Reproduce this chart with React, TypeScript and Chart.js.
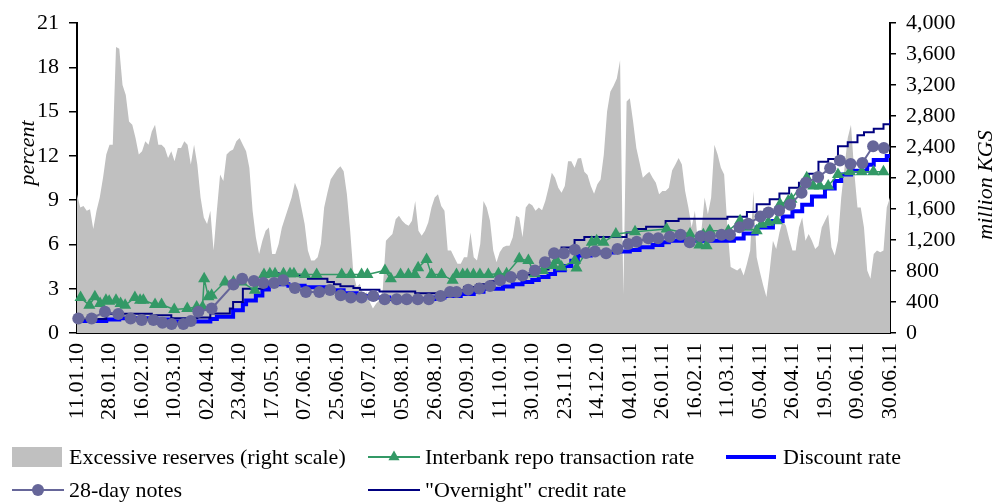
import React, { useEffect, useRef } from 'react';
import { Chart, registerables } from 'chart.js';

Chart.register(...registerables);

// ---- data ----
// x unit: period index; one tick label every 10 periods
const tickLabels = ['11.01.10', '28.01.10', '16.02.10', '10.03.10', '02.04.10', '23.04.10', '17.05.10', '07.06.10', '25.06.10', '16.07.10', '05.08.10', '26.08.10', '20.09.10', '11.10.10', '30.10.10', '23.11.10', '14.12.10', '04.01.11', '26.01.11', '16.02.11', '11.03.11', '05.04.11', '26.04.11', '19.05.11', '09.06.11', '30.06.11'];
const PERIODS_PER_LABEL = 10;

// Excessive reserves, million KGS (right scale), one value per period 0..250
const reserves = [
  1791, 1620, 1641, 1577, 1598, 1342, 1577, 1748, 2004, 2304,
  2432, 2432, 3693, 3671, 3201, 3073, 2731, 2688, 2517, 2304,
  2346, 2475, 2432, 2603, 2688, 2432, 2432, 2389, 2261, 2346,
  2218, 2389, 2389, 2475, 2432, 2175, 2432, 2175, 1748, 1492,
  1406, 1577, 1064, 1577, 2047, 1962, 2304, 2346, 2368, 2475,
  2517, 2432, 2346, 2133, 1577, 1235, 1021, 1192, 1321, 1363,
  1021, 1021, 1150, 1363, 1492, 1620, 1748, 1940, 1834, 1620,
  1406, 1064, 936, 936, 979, 1150, 1620, 1812, 1983, 2047,
  2111, 2154, 2090, 1791, 1321, 765, 594, 637, 466, 530,
  402, 316, 380, 423, 551, 1192, 1235, 1278, 1470, 1513,
  1449, 1406, 1385, 1449, 1705, 1321, 1257, 1321, 1428, 1620,
  1748, 1791, 1641, 1577, 1064, 1064, 979, 893, 893, 979,
  979,
  1299, 979, 936, 1150, 1705, 1620, 1449, 1064, 915, 1043,
  1107, 1128, 1128, 1235, 1513, 1492, 1235, 1620, 1675, 1650,
  1577, 1620, 1586, 1705, 1876, 2069, 2004, 1876, 1812, 1898,
  2218, 2218, 2133, 2252, 2261, 2081, 2039, 1898, 1799, 1919,
  1983, 2304, 2859, 3116, 3193, 3287, 3522, 500, 2988, 3030,
  2731, 2389, 2197, 2004, 2047, 2081, 2004, 1940, 1791, 1834,
  1834, 1876,
  2099, 2175, 2261, 2175, 1834, 1620, 1363, 1577, 1150, 1321,
  1748, 1534, 1748, 2432, 2304, 2133, 2047, 1363, 851, 829,
  808, 842, 744, 893, 1064, 1834, 979, 786, 615, 466,
  808, 1192, 1086, 1299, 1449, 1385, 1214, 1064, 1064, 1363,
  1492, 1192, 1278, 1192, 1086, 1128, 1363, 1449, 1534, 1107,
  1000, 1192, 1748, 2133, 2517, 2688, 2090, 1620, 1620, 1363,
  808, 701, 1021, 1064, 1043, 1064, 1620, 1748,
];

// Discount rate, %: period where each level starts, and the level
const discountFrom = [0, 9, 13, 23, 29, 41, 43, 48, 51, 52, 55, 57, 59, 65, 70, 77, 82, 86, 90, 96, 110, 113, 118, 122, 125, 131, 134, 137, 140, 142, 145, 147, 150, 152, 154, 158, 165, 170, 173, 177, 180, 182, 202, 205, 209, 214, 217, 220, 223, 226, 230, 233, 235, 238, 243, 245, 249];
const discountRate = [0.82, 0.92, 1.0, 0.92, 0.78, 0.95, 1.1, 1.55, 1.95, 2.2, 2.55, 2.95, 3.3, 3.2, 3.1, 2.9, 2.7, 2.5, 2.4, 2.3, 2.4, 2.5, 2.65, 2.8, 3.0, 3.15, 3.3, 3.45, 3.6, 3.8, 4.0, 4.25, 4.55, 4.9, 5.25, 5.45, 5.52, 5.63, 5.81, 5.97, 6.15, 6.25, 6.4, 6.75, 7.15, 7.6, 7.9, 8.25, 8.7, 9.25, 9.8, 10.3, 10.75, 11.0, 11.4, 11.72, 12.0];

// "Overnight" credit rate, %
const overnightFrom = [0, 9, 23, 29, 37, 41, 47, 48, 51, 57, 62, 69, 71, 77, 79, 81, 85, 87, 93, 104, 114, 119, 123, 127, 131, 134, 137, 140, 142, 145, 147, 149, 153, 156, 169, 172, 175, 181, 185, 200, 206, 209, 213, 216, 219, 222, 225, 228, 231, 234, 237, 240, 242, 245, 248];
const overnightRate = [0.95, 1.3, 1.2, 1.0, 1.05, 1.32, 1.66, 2.1, 3.0, 4.05, 3.9, 3.8, 3.68, 3.45, 3.3, 3.17, 3.05, 2.93, 2.82, 2.7, 2.9, 3.12, 3.3, 3.5, 3.65, 3.8, 3.95, 4.1, 4.3, 4.6, 5.2, 5.8, 6.3, 6.5, 6.82, 7.05, 7.2, 7.6, 7.74, 7.88, 8.21, 8.73, 9.07, 9.45, 9.85, 10.19, 10.79, 11.6, 11.8, 12.66, 12.93, 13.4, 13.6, 13.85, 14.15];
const LAST_PERIOD = 250;
const overnightEnd = 14.45;

// 28-day notes, %
const notesDay = [0.4, 4.5, 8.6, 12.7, 16.5, 19.9, 23.5, 26.3, 29.1, 32.7, 35.0, 37.3, 41.4, 48.1, 50.8, 54.4, 57.3, 60.6, 63.4, 67.0, 70.4, 74.5, 77.8, 81.1, 84.2, 87.5, 91.1, 94.6, 98.3, 101.4, 104.8, 108.2, 111.8, 114.7, 116.7, 120.3, 123.7, 127.0, 130.1, 133.4, 137.0, 140.8, 143.9, 146.7, 149.7, 153.1, 156.5, 159.3, 162.7, 166.2, 169.5, 172.1, 175.7, 178.7, 182.3, 185.6, 188.4, 191.8, 194.6, 198.2, 200.8, 203.7, 206.4, 210.2, 212.6, 215.9, 219.3, 222.8, 224.1, 227.9, 231.6, 234.6, 237.9, 241.5, 244.8, 248.1];
const notesRate = [0.99, 0.99, 1.44, 1.28, 0.99, 0.88, 0.88, 0.70, 0.61, 0.61, 0.81, 1.44, 1.66, 3.28, 3.68, 3.52, 3.39, 3.39, 3.57, 3.05, 2.78, 2.78, 2.92, 2.56, 2.40, 2.40, 2.51, 2.29, 2.29, 2.29, 2.29, 2.29, 2.51, 2.78, 2.78, 2.94, 3.01, 3.19, 3.57, 3.79, 3.90, 4.24, 4.80, 5.41, 5.41, 5.65, 5.43, 5.52, 5.41, 5.70, 6.04, 6.19, 6.42, 6.42, 6.53, 6.66, 6.15, 6.55, 6.53, 6.66, 6.66, 7.16, 7.40, 7.90, 8.17, 8.30, 8.70, 9.51, 10.19, 10.57, 11.17, 11.69, 11.45, 11.53, 12.66, 12.54];

// Interbank repo transaction rate, %
const repoDay = [1.1, 3.8, 5.5, 7.1, 8.9, 9.9, 12.0, 13.4, 14.8, 17.8, 19.4, 20.4, 24.0, 26.0, 29.9, 33.9, 36.8, 38.6, 39.1, 40.4, 41.4, 45.5, 48.1, 50.6, 54.7, 57.5, 59.3, 60.9, 63.5, 65.5, 66.7, 70.1, 73.7, 81.4, 84.2, 87.5, 89.3, 94.7, 96.5, 99.5, 101.9, 103.9, 104.9, 107.5, 109.0, 112.1, 115.5, 116.7, 118.6, 120.0, 121.9, 123.9, 126.5, 129.6, 132.1, 136.0, 138.8, 140.8, 143.3, 146.5, 147.5, 149.0, 153.1, 153.6, 158.3, 159.8, 161.9, 165.7, 171.6, 181.3, 188.5, 191.4, 192.6, 193.6, 194.6, 200.3, 203.9, 205.9, 209.0, 210.5, 212.6, 215.2, 216.2, 218.7, 219.7, 224.4, 226.4, 228.4, 231.0, 234.0, 237.7, 241.3, 244.9, 248.0];
const repoRate = [2.40, 1.88, 2.45, 2.00, 2.22, 2.15, 2.22, 2.00, 1.88, 2.40, 2.22, 2.22, 1.93, 1.93, 1.59, 1.66, 1.77, 1.77, 3.68, 2.45, 2.56, 3.46, 3.46, 3.46, 2.89, 3.97, 4.02, 4.02, 4.02, 4.02, 4.02, 3.97, 3.97, 3.97, 3.97, 3.97, 3.97, 4.24, 3.68, 3.97, 3.97, 3.97, 4.42, 4.98, 3.97, 3.97, 3.57, 3.97, 3.97, 3.97, 3.97, 3.97, 3.97, 4.02, 4.02, 5.03, 4.91, 4.02, 4.24, 4.58, 4.91, 4.47, 4.91, 4.40, 6.15, 6.26, 6.15, 6.71, 6.87, 7.05, 6.71, 5.97, 6.66, 5.92, 6.93, 6.93, 7.61, 7.16, 6.93, 7.38, 7.50, 7.61, 8.73, 8.95, 9.07, 10.52, 9.96, 9.96, 9.96, 10.75, 10.93, 10.93, 10.93, 10.93];

const legendRow1 = ['Excessive reserves (right scale)', 'Interbank repo transaction rate', 'Discount rate'];
const legendRow2 = ['28-day notes', '"Overnight" credit rate'];

// ---- styles ----
const FONT = '"Liberation Serif", "Times New Roman", serif';
const C_RES = '#C0C0C0';
const C_REPO = '#339966';
const C_DISC = '#0000FF';
const C_NOTES = '#666699';
const C_ON = '#000080';

function stepPoints(from: number[], rate: number[], endX: number, endY: number) {
  const pts = from.map((d, i) => ({ x: d, y: rate[i] }));
  pts.push({ x: endX, y: endY });
  return pts;
}

const axisTitlesPlugin = {
  id: 'axisTitles',
  afterDraw(chart: any) {
    const ctx = chart.ctx;
    ctx.save();
    ctx.font = 'italic 22px ' + FONT;
    ctx.fillStyle = '#000';
    ctx.textAlign = 'center';
    ctx.textBaseline = 'middle';
    ctx.save();
    ctx.translate(chart.scales.y.left + 28, 153);
    ctx.rotate(-Math.PI / 2);
    ctx.fillText('percent', 0, 0);
    ctx.restore();
    ctx.save();
    ctx.translate(chart.scales.y1.right - 12, 185);
    ctx.rotate(-Math.PI / 2);
    ctx.fillText('million KGS', 0, 0);
    ctx.restore();
    ctx.restore();
  },
};

function Swatch({ kind }: { kind: string }) {
  return (
    <svg width={52} height={24} style={{ display: 'block', flex: 'none' }}>
      {kind === 'area' && <rect x={0} y={2} width={50} height={20} fill={C_RES} />}
      {kind === 'repo' && (
        <g>
          <line x1={0} y1={12} x2={52} y2={12} stroke={C_REPO} strokeWidth={2} />
          <polygon points="26,5.5 31.6,15.2 20.4,15.2" fill={C_REPO} />
        </g>
      )}
      {kind === 'disc' && <line x1={0} y1={12} x2={50} y2={12} stroke={C_DISC} strokeWidth={4} />}
      {kind === 'notes' && (
        <g>
          <line x1={0} y1={12} x2={52} y2={12} stroke={C_NOTES} strokeWidth={2} />
          <circle cx={26} cy={12} r={6} fill={C_NOTES} />
        </g>
      )}
      {kind === 'on' && <line x1={0} y1={12} x2={52} y2={12} stroke={C_ON} strokeWidth={2} />}
    </svg>
  );
}

function LegendItem({ left, top, kind, text }: { left: number; top: number; kind: string; text: string }) {
  return (
    <div style={{ position: 'absolute', left, top, height: 24, display: 'flex', alignItems: 'center', whiteSpace: 'nowrap' }}>
      <Swatch kind={kind} />
      <span style={{ marginLeft: 5, fontFamily: FONT, fontSize: 22, lineHeight: '24px', color: '#000' }}>{text}</span>
    </div>
  );
}

export default function App() {
  const ref = useRef<HTMLCanvasElement | null>(null);

  useEffect(() => {
    if (!ref.current) return;
    Chart.defaults.font.family = FONT;
    Chart.defaults.font.size = 22;
    Chart.defaults.color = '#000';

    const chart = new Chart(ref.current, {
      type: 'line',
      data: {
        datasets: [
          {
            label: legendRow2[0],
            data: notesDay.map((d, i) => ({ x: d, y: notesRate[i] })),
            yAxisID: 'y',
            borderColor: C_NOTES,
            borderWidth: 2,
            pointStyle: 'circle',
            pointRadius: 6,
            pointBackgroundColor: C_NOTES,
            pointBorderWidth: 0,
            tension: 0,
            clip: false as any,
            order: 1,
          },
          {
            label: legendRow1[1],
            data: repoDay.map((d, i) => ({ x: d, y: repoRate[i] })),
            yAxisID: 'y',
            borderColor: C_REPO,
            borderWidth: 1.5,
            pointStyle: 'triangle',
            pointRadius: 7,
            pointBackgroundColor: C_REPO,
            pointBorderWidth: 0,
            tension: 0,
            clip: false as any,
            order: 2,
          },
          {
            label: legendRow2[1],
            data: stepPoints(overnightFrom, overnightRate, LAST_PERIOD, overnightEnd),
            yAxisID: 'y',
            borderColor: C_ON,
            borderWidth: 2,
            stepped: true,
            pointRadius: 0,
            order: 3,
          },
          {
            label: legendRow1[2],
            data: stepPoints(discountFrom, discountRate, LAST_PERIOD, discountRate[discountRate.length - 1]),
            yAxisID: 'y',
            borderColor: C_DISC,
            borderWidth: 4,
            stepped: true,
            pointRadius: 0,
            order: 4,
          },
          {
            label: legendRow1[0],
            data: reserves.map((v, i) => ({ x: i, y: v })),
            yAxisID: 'y1',
            backgroundColor: C_RES,
            borderWidth: 0,
            borderColor: C_RES,
            pointRadius: 0,
            fill: 'origin',
            tension: 0,
            order: 5,
          },
        ],
      },
      options: {
        animation: false,
        responsive: false,
        maintainAspectRatio: false,
        events: [],
        layout: { padding: { top: 21, left: 0, right: 0, bottom: 0 } },
        plugins: { legend: { display: false }, tooltip: { enabled: false } },
        scales: {
          x: {
            type: 'linear',
            min: 0,
            max: LAST_PERIOD,
            grid: { display: false, drawTicks: false },
            border: { display: true, color: '#000', width: 2 },
            ticks: {
              stepSize: PERIODS_PER_LABEL,
              maxTicksLimit: 40,
              autoSkip: false,
              minRotation: 90,
              maxRotation: 90,
              padding: 10,
              font: { size: 22, family: FONT },
              color: '#000',
              callback: (v: any) => tickLabels[Math.round(Number(v) / PERIODS_PER_LABEL)] ?? '',
            },
            afterFit: (s: any) => { s.height = 169; },
          },
          y: {
            type: 'linear',
            position: 'left',
            min: 0,
            max: 21,
            grid: { display: true, drawOnChartArea: false, drawTicks: true, tickLength: 8, color: '#000', lineWidth: 1.5 },
            border: { display: true, color: '#000', width: 2 },
            ticks: { stepSize: 3, padding: 10, font: { size: 22, family: FONT }, color: '#000' },
            afterFit: (s: any) => { s.width = 77; },
          },
          y1: {
            type: 'linear',
            position: 'right',
            min: 0,
            max: 4000,
            grid: { display: true, drawOnChartArea: false, drawTicks: true, tickLength: 6, color: '#000', lineWidth: 1.5 },
            border: { display: true, color: '#000', width: 2 },
            ticks: {
              stepSize: 400,
              padding: 10,
              font: { size: 22, family: FONT },
              color: '#000',
              callback: (v: any) => Number(v).toLocaleString('en-US'),
            },
            afterFit: (s: any) => { s.width = 108; },
          },
        },
      } as any,
      plugins: [axisTitlesPlugin],
    });
    return () => chart.destroy();
  }, []);

  return (
    <div style={{ position: 'fixed', left: 0, top: 0, width: 998, height: 502, background: '#fff' }}>
      <canvas ref={ref} width={998} height={502} style={{ width: 998, height: 502, display: 'block' }} />
      <LegendItem left={12} top={445} kind="area" text={legendRow1[0]} />
      <LegendItem left={368} top={445} kind="repo" text={legendRow1[1]} />
      <LegendItem left={726} top={445} kind="disc" text={legendRow1[2]} />
      <LegendItem left={12} top={478} kind="notes" text={legendRow2[0]} />
      <LegendItem left={368} top={478} kind="on" text={legendRow2[1]} />
    </div>
  );
}
